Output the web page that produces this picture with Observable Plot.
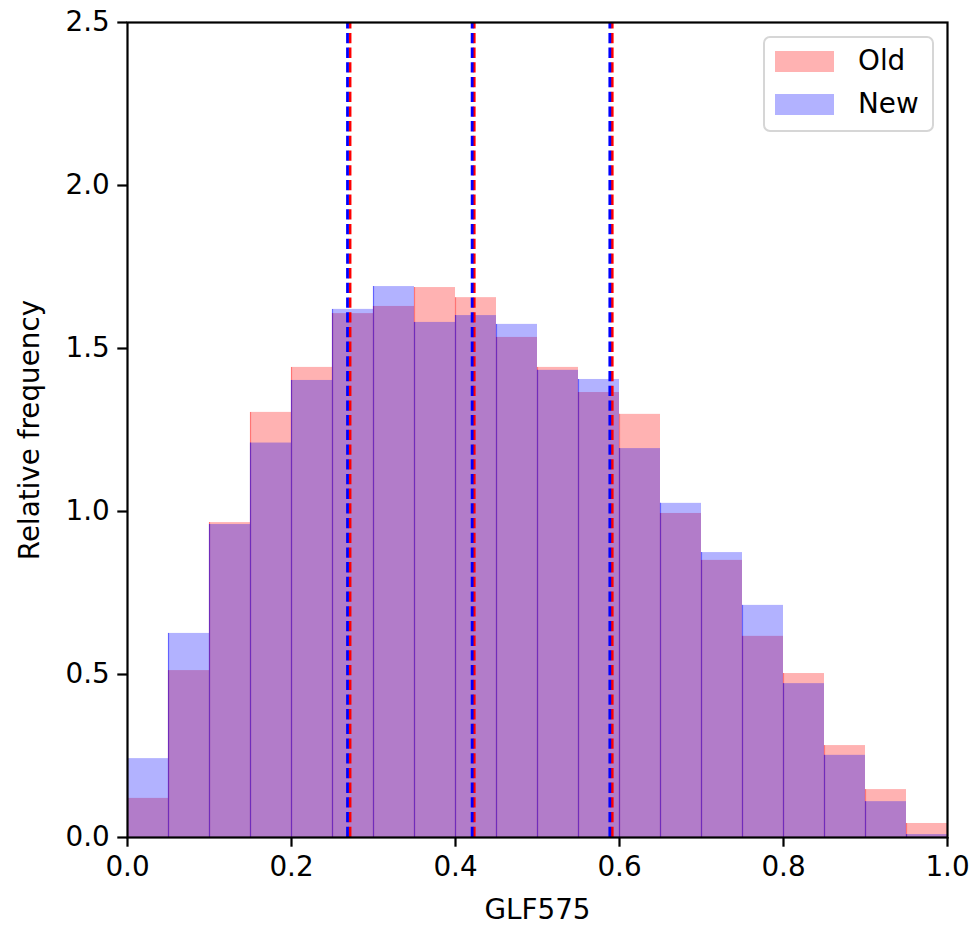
<!DOCTYPE html>
<html>
<head>
<meta charset="utf-8">
<script src="https://cdn.jsdelivr.net/npm/d3@7"></script>
<script src="https://cdn.jsdelivr.net/npm/@observablehq/plot@0.6"></script>
<style>
  html, body { margin: 0; padding: 0; background: #fff; }
  #wrap { position: relative; width: 974px; height: 926px; font-family: "DejaVu Sans", sans-serif; }
  .legend { position: absolute; left: 763px; top: 36px; width: 167px; height: 92px;
            border: 2px solid #d6d6d6; border-radius: 7px; background: rgba(255,255,255,0.8); }
  .legend .row { position: absolute; left: 10px; height: 22px; display: flex; align-items: center; }
  .legend .sw { width: 59px; height: 21px; margin-right: 24px; }
  .legend .lab { font-size: 27.8px; color: #000; line-height: 22px; }
</style>
</head>
<body>
<div id="wrap"></div>
<script>
// Bin start edges (bin width 0.05)
const binStart = [0.00,0.05,0.10,0.15,0.20,0.25,0.30,0.35,0.40,0.45,0.50,0.55,0.60,0.65,0.70,0.75,0.80,0.85,0.90,0.95];
const binWidth = 0.05;
// Relative frequency (density) per bin
const oldValues = [0.120,0.512,0.966,1.304,1.442,1.607,1.629,1.687,1.656,1.534,1.442,1.365,1.298,0.994,0.850,0.617,0.503,0.282,0.147,0.043];
const newValues = [0.242,0.626,0.960,1.210,1.402,1.620,1.690,1.580,1.601,1.574,1.433,1.405,1.193,1.025,0.874,0.712,0.472,0.252,0.110,0.009];
// Vertical dashed reference lines (quartiles)
const oldLines = [0.2714, 0.4228, 0.5911];
const newLines = [0.2683, 0.4203, 0.5882];
const seriesNames = ["Old", "New"];
const seriesColors = ["red", "blue"];
const xTicks = [0, 0.2, 0.4, 0.6, 0.8, 1.0];
const yTicks = [0, 0.5, 1.0, 1.5, 2.0, 2.5];

const oldBins = binStart.map((s, i) => ({x1: s, x2: s + binWidth, v: oldValues[i]}));
const newBins = binStart.map((s, i) => ({x1: s, x2: s + binWidth, v: newValues[i]}));

const fs = 27.8;
const chart = Plot.plot({
  width: 974,
  height: 926,
  marginLeft: 127,
  marginRight: 27,
  marginTop: 22,
  marginBottom: 89,
  style: {fontFamily: "DejaVu Sans, sans-serif", fontSize: fs + "px", color: "black", background: "white"},
  x: {domain: [0, 1]},
  y: {domain: [0, 2.5]},
  marks: [
    Plot.rect(oldBins, {x1: "x1", x2: "x2", y1: 0, y2: "v", fill: seriesColors[0], fillOpacity: 0.3}),
    Plot.rect(newBins, {x1: "x1", x2: "x2", y1: 0, y2: "v", fill: seriesColors[1], fillOpacity: 0.3}),
    Plot.ruleX(oldBins.slice(1), {x: "x1", y1: 0, y2: "v", stroke: seriesColors[0], strokeOpacity: 0.35, strokeWidth: 1.2}),
    Plot.ruleX(newBins.slice(1), {x: "x1", y1: 0, y2: "v", stroke: seriesColors[1], strokeOpacity: 0.45, strokeWidth: 1.2}),
    Plot.ruleX(oldLines, {x: d => d, y1: 0, y2: 2.5, stroke: seriesColors[0], strokeWidth: 2.8, strokeDasharray: "10.3,4.4"}),
    Plot.ruleX(newLines, {x: d => d, y1: 0, y2: 2.5, stroke: seriesColors[1], strokeWidth: 2.8, strokeDasharray: "10.3,4.4"}),
    Plot.frame({stroke: "black", strokeWidth: 2.2}),
    Plot.axisX({ticks: xTicks, tickFormat: d3.format(".1f"), tickSize: 9.7, tickPadding: 9, strokeWidth: 2.2,
                label: "GLF575", labelAnchor: "center", labelArrow: "none", labelOffset: 81, fontSize: fs}),
    Plot.axisY({ticks: yTicks, tickFormat: d3.format(".1f"), tickSize: 9.7, tickPadding: 8, strokeWidth: 2.2,
                label: "Relative frequency", labelAnchor: "center", labelArrow: "none", labelOffset: 108, fontSize: fs})
  ]
});
const wrap = document.getElementById("wrap");
wrap.appendChild(chart);

// Legend (inside the axes, upper right)
const leg = document.createElement("div");
leg.className = "legend";
seriesNames.forEach((name, i) => {
  const row = document.createElement("div");
  row.className = "row";
  row.style.top = (12 + i * 43) + "px";
  const sw = document.createElement("div");
  sw.className = "sw";
  sw.style.background = seriesColors[i];
  sw.style.opacity = 0.3;
  const lab = document.createElement("span");
  lab.className = "lab";
  lab.textContent = name;
  row.appendChild(sw);
  row.appendChild(lab);
  leg.appendChild(row);
});
wrap.appendChild(leg);
</script>
</body>
</html>
